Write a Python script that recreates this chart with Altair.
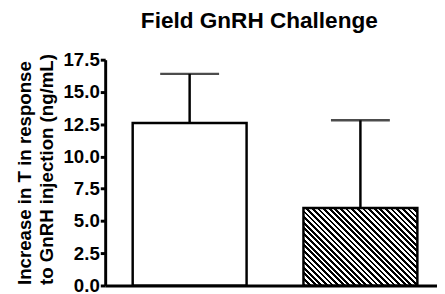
import altair as alt
import pandas as pd

# ---- data ----
groups = ["Group A", "Group B"]
means = [12.6, 6.0]
upper = [16.4, 12.8]
y_ticks = [0.0, 2.5, 5.0, 7.5, 10.0, 12.5, 15.0, 17.5]
title_text = "Field GnRH Challenge"
y_title = ["Increase in T in response", "to GnRH injection (ng/mL)"]

df = pd.DataFrame({"group": groups, "mean": means, "upper": upper})

# ---- layout ----
PLOT_W, PLOT_H = 338, 230
X_RANGE = 346
Y_MAX = 17.5
P_INNER, P_OUTER = 0.333, 0.161
FONT = "Liberation Sans"
LABEL_SIZE = 19

# hatch gradient geometry (SVG objectBoundingBox), stripes at 45 degrees
step = X_RANGE / (len(groups) - P_INNER + 2 * P_OUTER)
bw = step * (1 - P_INNER)
bh = means[1] / Y_MAX * PLOT_H
s = (bw + bh) / (bw ** 2 + bh ** 2)
gx2, gy2 = bw * s, 1 - bh * s
n_stripes = 34
stops = []
for k in range(n_stripes):
    o0 = k / n_stripes
    o1 = (k + 0.5) / n_stripes
    o2 = (k + 1) / n_stripes
    stops += [
        alt.GradientStop(offset=o0, color="black"),
        alt.GradientStop(offset=o1, color="black"),
        alt.GradientStop(offset=o1, color="white"),
        alt.GradientStop(offset=o2, color="white"),
    ]
hatch = alt.LinearGradient(gradient="linear", stops=stops, x1=0, y1=1, x2=gx2, y2=gy2)

x_enc = alt.X(
    "group:N",
    sort=groups,
    scale=alt.Scale(paddingInner=P_INNER, paddingOuter=P_OUTER, range=[0, X_RANGE]),
    axis=alt.Axis(labels=False, ticks=False, title=None, domainWidth=3, domainColor="black"),
)
y_axis = alt.Axis(
    values=y_ticks,
    format=".1f",
    title=y_title,
    titleFont=FONT,
    titleFontSize=19,
    titleFontWeight="bold",
    titleColor="black",
    titleAngle=270,
    titleAlign="left",
    titleBaseline="alphabetic",
    titleX=-76,
    titleY=229,
    titleLineHeight=22,
    labelFont=FONT,
    labelFontSize=LABEL_SIZE,
    labelFontWeight="bold",
    labelColor="black",
    labelOverlap=False,
    labelFlush=False,
    labelPadding=1,
    tickSize=5,
    tickWidth=3,
    tickColor="black",
    domainWidth=3,
    domainColor="black",
    grid=False,
)
y_scale = alt.Scale(domain=[0, Y_MAX], nice=False)
y_mean = alt.Y("mean:Q", scale=y_scale, axis=y_axis)
y_up = alt.Y("upper:Q", scale=y_scale, axis=y_axis)

base = alt.Chart(df)

bar_white = base.transform_filter(alt.datum.group == groups[0]).mark_bar(
    fill="white", stroke="black", strokeWidth=2.5
).encode(x=x_enc, y=y_mean)

bar_hatch = base.transform_filter(alt.datum.group == groups[1]).mark_bar(
    fill=hatch, stroke="black", strokeWidth=2.5
).encode(x=x_enc, y=y_mean)

err_rule = base.mark_rule(color="black", strokeWidth=2.5).encode(
    x=x_enc, y=y_mean, y2="upper:Q"
)
err_cap = base.mark_tick(color="black", thickness=2.5, size=60, orient="horizontal").encode(
    x=x_enc, y=y_up
)

chart = (
    alt.layer(bar_white, bar_hatch, err_rule, err_cap)
    .properties(
        width=PLOT_W,
        height=PLOT_H,
        title=alt.TitleParams(
            text=title_text,
            font=FONT,
            fontSize=23,
            fontWeight="bold",
            color="black",
            anchor="middle",
            dx=-12,
            offset=18,
        ),
        autosize=alt.AutoSizeParams(type="none"),
        padding={"left": 99, "top": 50, "right": 0, "bottom": 5},
    )
    .configure(
        background="white",
        title=alt.TitleConfig(font=FONT, fontSize=23, fontWeight="bold", color="black"),
        axis=alt.AxisConfig(
            labelFont=FONT,
            labelFontSize=LABEL_SIZE,
            labelFontWeight="bold",
            labelColor="black",
            titleFont=FONT,
            titleFontSize=19,
            titleFontWeight="bold",
            titleColor="black",
        ),
        view=alt.ViewConfig(stroke=None),
    )
)

chart.save("out.html", embed_options={"renderer": "svg", "actions": False})
